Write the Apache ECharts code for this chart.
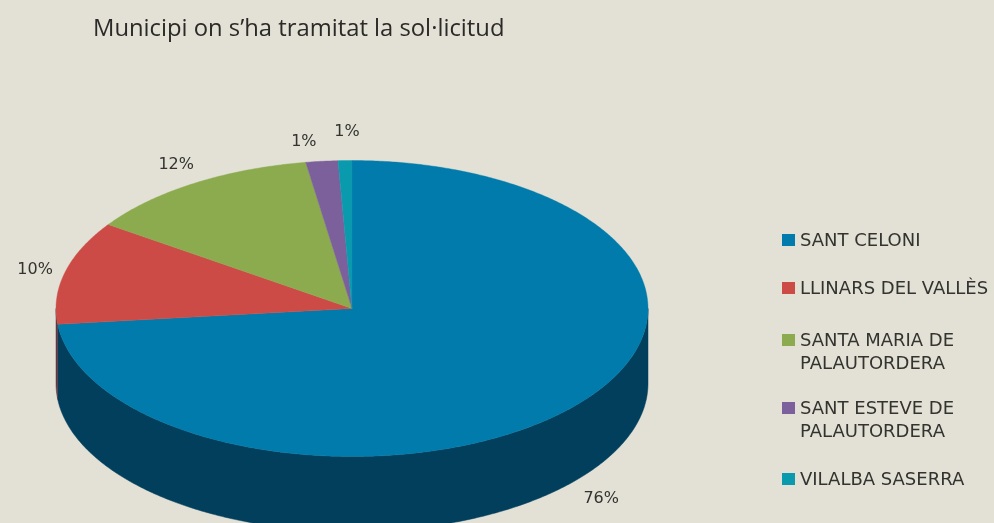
<!DOCTYPE html>
<html><head><meta charset="utf-8">
<style>html,body{margin:0;padding:0;background:#E3E1D5}#c{width:994px;height:523px}</style>
<script src="https://cdn.jsdelivr.net/npm/echarts@6/dist/echarts.min.js"></script>
</head><body><div id="c"></div>
<script>
// Data
const titleText = "Municipi on s’ha tramitat la sol·licitud";
const categories = ["SANT CELONI", "LLINARS DEL VALLÈS", "SANTA MARIA DE\nPALAUTORDERA", "SANT ESTEVE DE\nPALAUTORDERA", "VILALBA SASERRA"];
const sliceShares = [73.3, 11.3, 12.9, 1.75, 0.75];   // drawn size of each slice
const percentLabels = ["76%", "10%", "12%", "1%", "1%"];

// Style and layout
const topColors = ["#007BAB", "#CC4B47", "#8BAB4E", "#7C609C", "#0A9AAD"];
const sideColors = ["#013F5D", "#5A3A48", "#4C6230", "#47385C", "#06606C"];
const pie = {cx: 352, cy: 308.5, rx: 296, ry: 148, depth: 75};
const labelOffsets = [[29, 91], [-30, -2], [-18, -18], [-18, -19], [2, -29]];
const legendY = [240, 288, 340, 408, 479];
const legendLine = 23;
const textColor = "#333330";
const fontFamily = "'DejaVu Sans'";
const legendFontSize = 18;

const total = sliceShares.reduce((a, b) => a + b, 0);
function range(i, api) {
  let before = 0;
  for (let k = 0; k < i; k++) before += sliceShares[k];
  return [before / total * 360, (before + api.value(0)) / total * 360];
}
function pt(deg, dy) {
  const a = deg * Math.PI / 180;
  return [pie.cx + pie.rx * Math.sin(a), pie.cy - pie.ry * Math.cos(a) + (dy || 0)];
}
function arc(a, b, dy) {
  const out = [], n = Math.max(2, Math.ceil((b - a) * 2));
  for (let j = 0; j <= n; j++) out.push(pt(a + (b - a) * j / n, dy));
  return out;
}
const seriesData = sliceShares.map((v, i) => ({value: v, name: categories[i]}));

const legendGraphics = [];
categories.forEach((name, i) => {
  legendGraphics.push({type: "rect", left: 782, top: legendY[i] - 6, shape: {width: 13, height: 12}, style: {fill: topColors[i]}});
  legendGraphics.push({type: "text", left: 800, top: legendY[i] - 10.5,
    style: {text: name, fill: textColor, font: legendFontSize + "px " + fontFamily, lineHeight: legendLine}});
});

const chart = echarts.init(document.getElementById("c"));
chart.setOption({
  backgroundColor: "#E3E1D5",
  animation: false,
  title: {text: titleText, left: 93, top: 17, padding: 0,
    textStyle: {color: "#2B2A28", fontFamily: "Open Sans", fontWeight: "normal", fontSize: 23.8}},
  graphic: legendGraphics,
  series: [
    {type: "custom", name: "side", coordinateSystem: "none", data: seriesData, silent: true, z: 1,
      renderItem(params, api) {
        const [a, b] = range(params.dataIndex, api);
        const s = Math.max(a, 90), e = Math.min(b, 270);
        if (e <= s) return {type: "group", children: []};
        const pts = arc(s, e, 0).concat(arc(s, e, pie.depth).reverse());
        return {type: "polygon", shape: {points: pts}, style: {fill: sideColors[params.dataIndex], stroke: sideColors[params.dataIndex], lineWidth: 0.5}};
      }},
    {type: "custom", name: "top", coordinateSystem: "none", data: seriesData, silent: true, z: 2,
      renderItem(params, api) {
        const i = params.dataIndex;
        const [a, b] = range(i, api);
        const m = pt((a + b) / 2);
        return {type: "group", children: [
          {type: "polygon", shape: {points: [[pie.cx, pie.cy]].concat(arc(a, b))},
            style: {fill: topColors[i], stroke: topColors[i], lineWidth: 0.4}},
          {type: "text", style: {x: m[0] + labelOffsets[i][0], y: m[1] + labelOffsets[i][1], text: percentLabels[i],
            fill: textColor, font: "16px " + fontFamily, align: "center", verticalAlign: "middle"}}
        ]};
      }}
  ]
});
</script></body></html>
